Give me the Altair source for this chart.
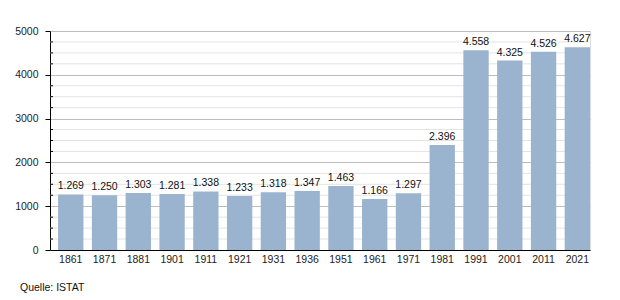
import altair as alt
import pandas as pd

years = ["1861", "1871", "1881", "1901", "1911", "1921", "1931", "1936",
         "1951", "1961", "1971", "1981", "1991", "2001", "2011", "2021"]
population = [1269, 1250, 1303, 1281, 1338, 1233, 1318, 1347,
              1463, 1166, 1297, 2396, 4558, 4325, 4526, 4627]
major_ticks = [0, 1000, 2000, 3000, 4000, 5000]
minor_ticks = [250, 500, 750, 1250, 1500, 1750, 2250, 2500, 2750,
               3250, 3500, 3750, 4250, 4500, 4750]

df = pd.DataFrame({
    "year": years,
    "pop": population,
    "label": [f"{v:,}".replace(",", ".") for v in population],
})
minor_df = pd.DataFrame({"v": minor_ticks})

W, H = 540, 219
FONT = "Liberation Sans"

yscale = alt.Scale(domain=[0, 5000], nice=False)
xscale = alt.Scale(paddingInner=0.25, paddingOuter=0.12, align=1)

minor_grid = alt.Chart(minor_df).mark_rule(color="#e3e3e3", strokeWidth=1).encode(
    y=alt.Y("v:Q", scale=yscale),
    x=alt.value(0),
    x2=alt.value(W - 2),
)
minor_tick = alt.Chart(minor_df).mark_rule(color="#000000", strokeWidth=1).encode(
    y=alt.Y("v:Q", scale=yscale),
    x=alt.value(0),
    x2=alt.value(3),
)

base = alt.Chart(df).encode(
    x=alt.X("year:N", sort=years, scale=xscale, title=None,
            axis=alt.Axis(labelAngle=0, ticks=False, domainColor="#000000",
                          labelFont=FONT, labelFontSize=10.5, labelColor="#222222",
                          labelPadding=4, grid=False)),
)
bars = base.mark_bar(color="#9ab3cf").encode(
    y=alt.Y("pop:Q", scale=yscale, title=None,
            axis=alt.Axis(values=major_ticks, format="d", tickSize=5,
                          tickColor="#000000", domainColor="#000000",
                          labelFont=FONT, labelFontSize=10.5,
                          labelColor="#222222", labelPadding=7,
                          gridColor="#bdbdbd", grid=True)),
)
texts = base.mark_text(baseline="bottom", dy=-3, font=FONT, fontSize=10.5,
                       color="#111111").encode(
    y=alt.Y("pop:Q", scale=yscale),
    text="label:N",
)

chart = alt.layer(minor_grid, bars, minor_tick, texts).properties(
    width=W, height=H,
    autosize=alt.AutoSizeParams(type="none"),
    padding={"left": 50, "top": 31, "right": 30, "bottom": 50},
    title=alt.TitleParams("Quelle: ISTAT", orient="bottom", anchor="start",
                          frame="group", dx=-30, offset=18, font=FONT,
                          fontSize=10.5, fontWeight="normal", color="#111111"),
).configure_view(stroke=None).configure(background="white")

chart.save("out.html", embed_options={"renderer": "svg", "actions": False})
